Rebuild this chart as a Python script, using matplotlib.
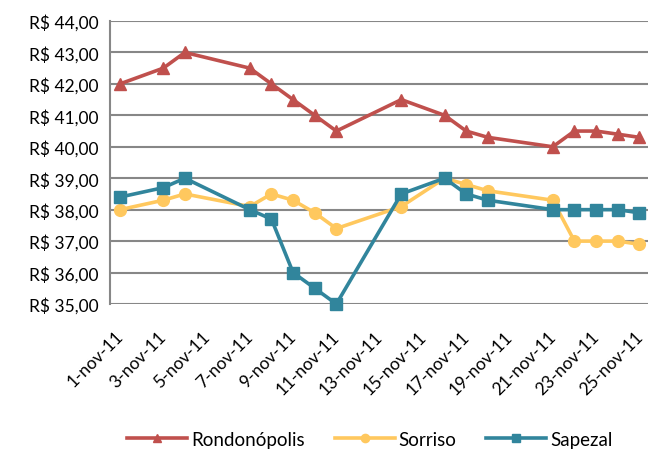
import numpy as np
import matplotlib.pyplot as plt
import matplotlib.transforms as mtransforms

days = [1, 3, 4, 7, 8, 9, 10, 11, 14, 16, 17, 18, 21, 22, 23, 24, 25]
rondonopolis = [42.0, 42.5, 43.0, 42.5, 42.0, 41.5, 41.0, 40.5, 41.5, 41.0, 40.5, 40.3, 40.0, 40.5, 40.5, 40.4, 40.3]
sorriso = [38.0, 38.3, 38.5, 38.1, 38.5, 38.3, 37.9, 37.4, 38.1, 39.0, 38.8, 38.6, 38.3, 37.0, 37.0, 37.0, 36.9]
sapezal = [38.4, 38.7, 39.0, 38.0, 37.7, 36.0, 35.5, 35.0, 38.5, 39.0, 38.5, 38.3, 38.0, 38.0, 38.0, 38.0, 37.9]

tick_days = list(range(1, 26, 2))
tick_labels = ['{}-nov-11'.format(d) for d in tick_days]
y_ticks = np.arange(35, 45, 1)

plt.rcParams['font.family'] = ['Lato', 'DejaVu Sans']

fig = plt.figure(figsize=(6.49, 4.52), dpi=100)
ax = fig.add_axes([110/649, 1 - 305/452, 538/649, 283/452])

ax.plot(days, rondonopolis, color='#C0504D', lw=2.6, marker='^', ms=8.5, label='Rondonópolis', clip_on=False, zorder=3)
ax.plot(days, sorriso, color='#FFC85E', lw=2.6, marker='o', ms=8.5, label='Sorriso', clip_on=False, zorder=3)
ax.plot(days, sapezal, color='#31859C', lw=2.6, marker='s', ms=8.5, label='Sapezal', clip_on=False, zorder=4)

ax.set_ylim(35, 44)
ax.set_xlim(0.54, 25.4)
ax.set_yticks(y_ticks)
ax.set_yticklabels(['R$ {:.2f}'.format(v).replace('.', ',') for v in y_ticks], fontsize=12.5)
ax.set_xticks(tick_days)
ax.set_xticklabels(tick_labels, rotation=45, ha='right', rotation_mode='anchor', fontsize=12.5)
ax.tick_params(axis='y', length=0, pad=8)
ax.tick_params(axis='x', length=0, pad=17)
shift = mtransforms.ScaledTranslation(-5/100, 0, fig.dpi_scale_trans)
for lbl in ax.get_xticklabels():
    lbl.set_transform(lbl.get_transform() + shift)
ax.grid(axis='y', color='#878787', lw=1.5)
ax.set_axisbelow(True)
for s in ['top', 'right', 'bottom']:
    ax.spines[s].set_visible(False)
ax.spines['left'].set_color('#878787')
ax.spines['left'].set_linewidth(1.5)

fig.legend(loc='lower center', bbox_to_anchor=(0.57, -0.03), ncol=3, frameon=False,
           fontsize=13.5, handlelength=3.2, columnspacing=1.6, handletextpad=0.2, markerscale=0.7)

plt.savefig('out.png', dpi=100)
